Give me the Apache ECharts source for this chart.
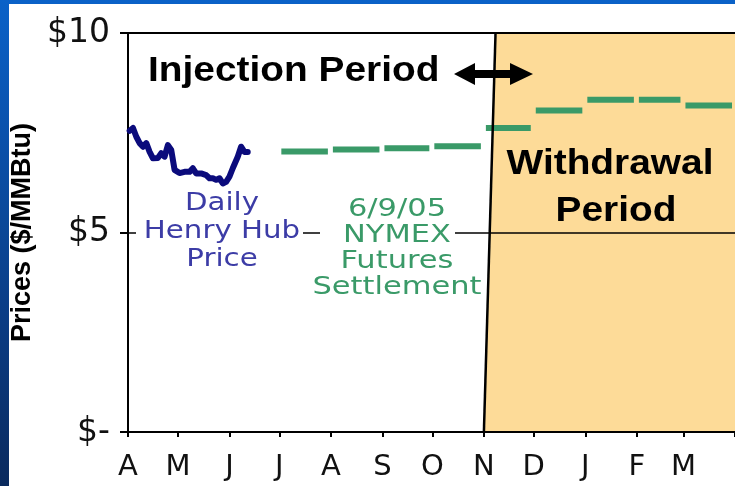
<!DOCTYPE html>
<html>
<head>
<meta charset="utf-8">
<script src="https://cdn.jsdelivr.net/npm/echarts@6/dist/echarts.min.js"></script>
<style>
  html, body { margin: 0; padding: 0; }
  body {
    width: 735px; height: 486px; overflow: hidden; position: relative;
    background: linear-gradient(#0a62c8, #0a3f8a 60%, #0a2a5e);
  }
  .panel { position: absolute; left: 9px; top: 4px; right: 0; bottom: 0; background: #fff; }
  #chart { position: absolute; left: 0; top: 0; width: 735px; height: 486px; }
</style>
</head>
<body>
<div class="panel"></div>
<div id="chart"></div>
<script>
// x axis: days since 1 Apr 2005
const monthStarts = [0, 30, 61, 91, 122, 153, 183, 214, 244, 275, 306, 334, 365]
const monthLabels = ['A', 'M', 'J', 'J', 'A', 'S', 'O', 'N', 'D', 'J', 'F', 'M']

// daily Henry Hub spot price (day, $/MMBtu)
const hubDays = [1, 3, 5, 7, 9, 11, 13, 15, 18, 20, 22, 24, 26, 28, 31, 34, 37, 39, 41, 44, 47, 49, 51, 53, 55, 57, 59, 61, 63, 66, 68, 70, 72]
const hubPrices = [7.55, 7.62, 7.40, 7.24, 7.15, 7.24, 7.02, 6.86, 6.87, 6.99, 6.90, 7.19, 7.07, 6.57, 6.49, 6.52, 6.52, 6.61, 6.48, 6.48, 6.44, 6.36, 6.36, 6.32, 6.36, 6.23, 6.27, 6.40, 6.61, 6.90, 7.15, 7.02, 7.02]

// 6/9/05 NYMEX futures settlement, Jul 2005 .. Mar 2006 (month index into monthStarts)
const futuresMonths = [3, 4, 5, 6, 7, 8, 9, 10, 11]
const futuresPrices = [7.03, 7.08, 7.11, 7.16, 7.62, 8.06, 8.33, 8.33, 8.18]

// injection / withdrawal boundary (day at $10, day at $0)
const boundaryTop = 221
const boundaryBottom = 214

const yTicks = { 0: '$-', 5: '$5', 10: '$10' }

const chart = echarts.init(document.getElementById('chart'), null, { renderer: 'canvas' })

const hubData = hubDays.map((d, i) => [d, hubPrices[i]])
const futuresData = futuresMonths.map((m, i) => [monthStarts[m], monthStarts[m + 1], futuresPrices[i]])

const blue = '#3c3ca6'
const green = '#3a9a68'

chart.setOption({
  animation: false,
  backgroundColor: 'transparent',
  grid: { left: 128, top: 33, right: 0, bottom: 54 },
  xAxis: [
    {
      type: 'value', min: 0, max: 365, z: 3,
      splitLine: { show: false },
      axisLine: { lineStyle: { color: '#000', width: 2 } },
      axisTick: { customValues: monthStarts, length: 5, lineStyle: { color: '#000', width: 2 } },
      axisLabel: {
        customValues: monthStarts.slice(0, 12),
        formatter: v => monthLabels[monthStarts.indexOf(v)],
        margin: 21,
        color: '#111',
        fontFamily: 'DejaVu Sans',
        fontSize: 29
      }
    },
    {
      type: 'value', min: 0, max: 365, position: 'top', z: 3,
      axisLine: { show: true, lineStyle: { color: '#000', width: 2 } },
      axisTick: { show: false },
      axisLabel: { show: false },
      splitLine: { show: false }
    }
  ],
  yAxis: {
    type: 'value', min: 0, max: 10, interval: 5, z: 3,
    name: 'Prices ($/MMBtu)',
    nameLocation: 'middle',
    nameRotate: 90,
    nameGap: 90,
    nameTextStyle: { fontFamily: 'Liberation Sans', fontWeight: 'bold', fontSize: 27, color: '#000' },
    axisLine: { show: true, lineStyle: { color: '#000', width: 2 } },
    axisTick: { show: true, length: 8, lineStyle: { color: '#000', width: 2 } },
    splitLine: { show: true, lineStyle: { color: '#000', width: 1.5 } },
    axisLabel: {
      formatter: v => yTicks[v],
      margin: 18,
      color: '#111',
      fontFamily: 'DejaVu Sans',
      fontSize: 33
    }
  },
  series: [
    {
      // withdrawal period shading
      type: 'custom',
      z: 1,
      silent: true,
      data: [[boundaryTop, boundaryBottom]],
      renderItem: (params, api) => {
        const pts = [
          api.coord([api.value(0), 10]),
          api.coord([365, 10]),
          api.coord([365, 0]),
          api.coord([api.value(1), 0])
        ]
        return { type: 'polygon', shape: { points: pts }, style: { fill: '#fddb98' } }
      }
    },
    {
      // boundary line
      type: 'custom',
      z: 5,
      silent: true,
      data: [[boundaryTop, boundaryBottom]],
      renderItem: (params, api) => {
        const a = api.coord([api.value(0), 10])
        const b = api.coord([api.value(1), 0])
        return {
          type: 'line',
          shape: { x1: a[0], y1: a[1], x2: b[0], y2: b[1] },
          style: { stroke: '#000', lineWidth: 2.5 }
        }
      }
    },
    {
      name: 'Daily Henry Hub Price',
      type: 'line',
      z: 4,
      data: hubData,
      showSymbol: false,
      lineStyle: { color: '#0b0b7c', width: 6, cap: 'round', join: 'round' }
    },
    {
      name: 'NYMEX Futures Settlement',
      type: 'custom',
      z: 4,
      data: futuresData,
      renderItem: (params, api) => {
        const a = api.coord([api.value(0), api.value(2)])
        const b = api.coord([api.value(1), api.value(2)])
        return {
          type: 'line',
          shape: { x1: a[0] + 2, y1: a[1], x2: b[0] - 3, y2: b[1] },
          style: { stroke: green, lineWidth: 6 }
        }
      }
    }
  ],
  graphic: [
    // white boxes behind the series labels (hide the $5 grid line there)
    { type: 'rect', z: 50, shape: { x: 136, y: 226, width: 167, height: 12 }, style: { fill: '#fff' } },
    { type: 'rect', z: 50, shape: { x: 320, y: 226, width: 135, height: 12 }, style: { fill: '#fff' } },
    {
      type: 'text', z: 60, x: 222, y: 189, scaleX: 1.17,
      style: {
        text: 'Daily\nHenry Hub\nPrice', fill: blue, font: '25px "DejaVu Sans"',
        textAlign: 'center', textVerticalAlign: 'top', align: 'center', verticalAlign: 'top', lineHeight: 28
      }
    },
    {
      type: 'text', z: 60, x: 397, y: 196, scaleX: 1.22,
      style: {
        text: '6/9/05\nNYMEX\nFutures\nSettlement', fill: green, font: '25px "DejaVu Sans"',
        textAlign: 'center', textVerticalAlign: 'top', align: 'center', verticalAlign: 'top', lineHeight: 26
      }
    },
    {
      type: 'text', z: 60, x: 148, y: 71, scaleX: 1.11,
      style: {
        text: 'Injection Period', fill: '#000', font: 'bold 35px "Liberation Sans"',
        textAlign: 'left', textVerticalAlign: 'middle', align: 'left', verticalAlign: 'middle'
      }
    },
    {
      type: 'text', z: 60, x: 610, y: 164, scaleX: 1.11,
      style: {
        text: 'Withdrawal', fill: '#000', font: 'bold 35px "Liberation Sans"',
        textAlign: 'center', textVerticalAlign: 'middle', align: 'center', verticalAlign: 'middle'
      }
    },
    {
      type: 'text', z: 60, x: 616, y: 211, scaleX: 1.11,
      style: {
        text: 'Period', fill: '#000', font: 'bold 35px "Liberation Sans"',
        textAlign: 'center', textVerticalAlign: 'middle', align: 'center', verticalAlign: 'middle'
      }
    },
    {
      // double-headed arrow
      type: 'polygon', z: 60,
      shape: {
        points: [[454, 74], [475, 63], [475, 70], [510, 70], [510, 63], [533, 74], [510, 85], [510, 78], [475, 78], [475, 85]]
      },
      style: { fill: '#000' }
    }
  ]
})
</script>
</body>
</html>
